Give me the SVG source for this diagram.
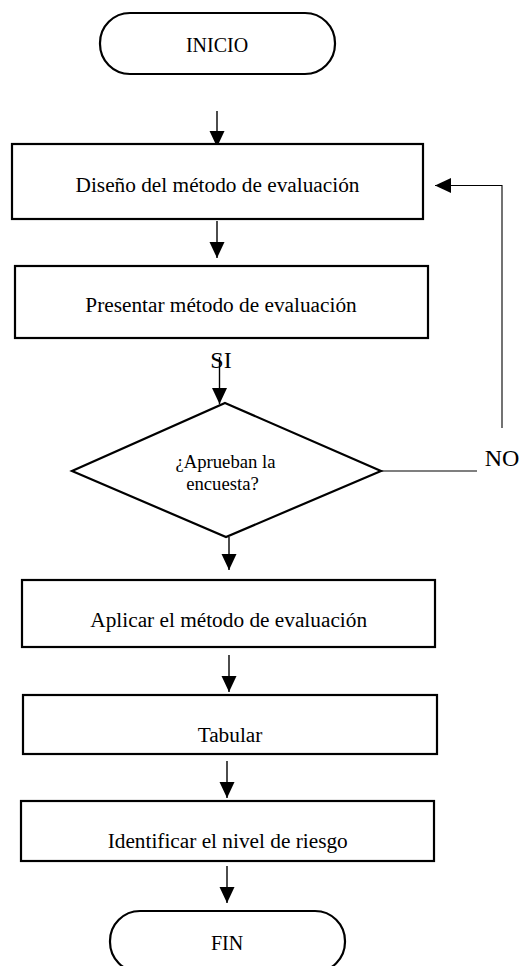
<svg xmlns="http://www.w3.org/2000/svg" width="522" height="966" viewBox="0 0 522 966">
  <style>
    .box { fill: #fff; stroke: #000; stroke-width: 2.2; }
    .t { font-family: "Liberation Serif", "Times New Roman", serif; fill: #000; text-anchor: middle; }
    .main { font-size: 21.3px; }
    .term { font-size: 20px; }
    .dec { font-size: 18.7px; }
    .lbl { font-size: 24px; }
    .conn { fill: none; stroke: #000; stroke-width: 1.4; }
    .thin { fill: none; stroke: #000; stroke-width: 1.1; }
  </style>
  <defs>
    <marker id="ah" markerUnits="userSpaceOnUse" markerWidth="16" markerHeight="16" refX="16" refY="7.5" orient="auto">
      <path d="M0,0 L16,7.5 L0,15 Z" fill="#000"/>
    </marker>
    <clipPath id="clip5">
      <rect x="0" y="801" width="522" height="52.5"/>
    </clipPath>
  </defs>

  <g id="connectors">
    <line class="conn" x1="217" y1="111" x2="217" y2="147" marker-end="url(#ah)"/>
    <line class="conn" x1="217" y1="221" x2="217" y2="258" marker-end="url(#ah)"/>
    <line class="conn" x1="219.5" y1="357" x2="219.5" y2="404" marker-end="url(#ah)"/>
    <line class="conn" x1="229" y1="537" x2="229" y2="570" marker-end="url(#ah)"/>
    <line class="conn" x1="229" y1="655" x2="229" y2="692" marker-end="url(#ah)"/>
    <line class="conn" x1="227" y1="761" x2="227" y2="798" marker-end="url(#ah)"/>
    <line class="conn" x1="227" y1="866" x2="227" y2="903" marker-end="url(#ah)"/>
    <line class="thin" x1="381" y1="471" x2="477" y2="471"/>
    <polyline class="thin" points="502,428 502,185.5 435,185.5" marker-end="url(#ah)"/>
    <text class="t lbl" x="221" y="367.5">SI</text>
    <text class="t lbl" x="502" y="465.5">NO</text>
  </g>

  <g id="inicio">
    <rect class="box" x="100" y="13" width="235" height="61" rx="30" ry="30"/>
    <text class="t term" x="217" y="52">INICIO</text>
  </g>

  <g id="diseno">
    <rect class="box" x="12" y="144" width="411" height="75"/>
    <text class="t main" x="217.5" y="191.5">Diseño del método de evaluación</text>
  </g>

  <g id="presentar">
    <rect class="box" x="15" y="266" width="413" height="72"/>
    <text class="t main" x="221" y="311.5">Presentar método de evaluación</text>
  </g>

  <g id="decision">
    <polygon class="box" points="225,403 381,471 226,537 72,471"/>
    <text class="t dec" x="225.5" y="468">¿Aprueban la</text>
    <text class="t dec" x="222.5" y="490">encuesta?</text>
  </g>

  <g id="aplicar">
    <rect class="box" x="22" y="580" width="413" height="67"/>
    <text class="t main" x="228.7" y="626.5">Aplicar el método de evaluación</text>
  </g>

  <g id="tabular">
    <rect class="box" x="23" y="695" width="414" height="59"/>
    <text class="t main" x="230" y="742.3">Tabular</text>
  </g>

  <g id="identificar">
    <rect class="box" x="21" y="801" width="413" height="60"/>
    <text class="t main" x="227.7" y="848.3" clip-path="url(#clip5)">Identificar el nivel de riesgo</text>
  </g>

  <g id="fin">
    <rect class="box" x="110" y="911" width="235" height="61" rx="30" ry="30"/>
    <text class="t term" x="227" y="950">FIN</text>
  </g>
</svg>
